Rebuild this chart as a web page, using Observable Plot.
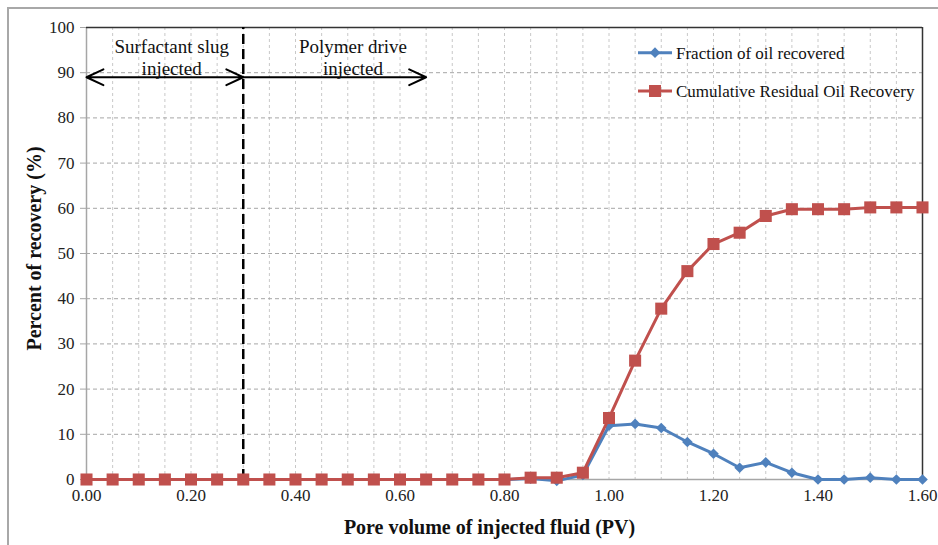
<!DOCTYPE html>
<html><head><meta charset="utf-8">
<script src="https://cdn.jsdelivr.net/npm/d3@7"></script>
<script src="https://cdn.jsdelivr.net/npm/@observablehq/plot@0.6"></script>
<style>
body{margin:0;background:#fff;}
#wrap{position:relative;width:938px;height:545px;overflow:hidden;font-family:"Liberation Serif","Times New Roman",serif;}
#wrap > svg{position:absolute;left:0;top:0;}
#frame{position:absolute;left:7px;top:7px;width:1000px;height:1000px;border-left:2px solid #a8a8a8;border-top:2px solid #a8a8a8;pointer-events:none;}
</style></head><body><div id="wrap"></div>
<script>
// ---- data ----
const pv = [0.00,0.05,0.10,0.15,0.20,0.25,0.30,0.35,0.40,0.45,0.50,0.55,0.60,0.65,0.70,0.75,0.80,0.85,0.90,0.95,1.00,1.05,1.10,1.15,1.20,1.25,1.30,1.35,1.40,1.45,1.50,1.55,1.60];
const fraction = [0,0,0,0,0,0,0,0,0,0,0,0,0,0,0,0,0,0.2,-0.3,1.0,11.9,12.3,11.4,8.3,5.7,2.6,3.8,1.5,0,0,0.4,0,0];
const cumulative = [0,0,0,0,0,0,0,0,0,0,0,0,0,0,0,0,0,0.4,0.4,1.5,13.6,26.3,37.8,46.1,52.1,54.6,58.3,59.8,59.8,59.8,60.2,60.2,60.2];
const seriesNames = ["Fraction of oil recovered", "Cumulative Residual Oil Recovery"];
const seriesColors = ["#4F81BD", "#C0504D"];
const xTicks = [0,0.2,0.4,0.6,0.8,1.0,1.2,1.4,1.6];
const xMinorGrid = [0.05,0.10,0.15,0.20,0.25,0.30,0.35,0.40,0.45,0.50,0.55,0.60,0.65,0.70,0.75,0.80,0.85,0.90,0.95,1.00,1.05,1.10,1.15,1.20,1.25,1.30,1.35,1.40,1.45,1.50,1.55];
const yTicks = [0,10,20,30,40,50,60,70,80,90,100];
const yGrid = [10,20,30,40,50,60,70,80,90];
const phaseBounds = [0.00, 0.30, 0.65];
const arrowLevel = 89;
const phaseLabels = ["Surfactant slug\ninjected", "Polymer drive\ninjected"];
const phaseLabelX = [0.163, 0.51];
const phaseLabelY = 93.4;
const xLabel = "Pore volume of injected fluid (PV)";
const yLabel = "Percent of recovery (%)";

// ---- build ----
const FONT = '"Liberation Serif", "Times New Roman", serif';
const rows = pv.map((x, i) => ({x, f: fraction[i], c: cumulative[i]}));
const mid = (phaseBounds[0] + phaseBounds[1]) / 2;
const arrows = [
  {x1: mid, x2: phaseBounds[0]},
  {x1: mid, x2: phaseBounds[1]},
  {x1: phaseBounds[1], x2: phaseBounds[2]}
];
const labels = phaseLabels.map((t, i) => ({t, x: phaseLabelX[i], y: phaseLabelY}));

const chart = Plot.plot({
  width: 938, height: 545,
  marginLeft: 86, marginRight: 16, marginTop: 27, marginBottom: 66,
  style: {fontFamily: FONT, fontSize: "16px", background: "transparent", overflow: "visible"},
  x: {domain: [0, 1.6]},
  y: {domain: [0, 100]},
  marks: [
    Plot.gridX({ticks: xMinorGrid, stroke: "#c8c8c8", strokeOpacity: 1, strokeDasharray: "3,3"}),
    Plot.gridY({ticks: yGrid, stroke: "#a6a6a6", strokeOpacity: 1, strokeDasharray: "4,3"}),
    Plot.ruleX([0], {stroke: "#a6a6a6", strokeWidth: 1.5}),
    Plot.ruleY([0], {stroke: "#a6a6a6", strokeWidth: 1.5}),
    Plot.ruleY([100], {stroke: "#333", strokeWidth: 1.5}),
    Plot.ruleX([1.6], {stroke: "#333", strokeWidth: 1.5}),
    Plot.axisY({ticks: yTicks, tickSize: 6, tickPadding: 6, stroke: "#a6a6a6", fill: "#222", fontSize: 17, label: null}),
    Plot.axisX({ticks: xTicks, tickFormat: d3.format(".2f"), tickSize: 0, tickPadding: 9, fill: "#222", fontSize: 17, label: null}),
    Plot.ruleX([phaseBounds[1]], {y1: 0, y2: 100, stroke: "black", strokeWidth: 2.5, strokeDasharray: "10,5"}),
    Plot.arrow(arrows, {x1: "x1", x2: "x2", y1: arrowLevel, y2: arrowLevel, stroke: "black", strokeWidth: 2, headLength: 14, headAngle: 50}),
    Plot.text(labels, {x: "x", y: "y", text: "t", fontSize: 19, lineHeight: 1.16, fill: "#111"}),
    Plot.line(rows, {x: "x", y: "f", stroke: seriesColors[0], strokeWidth: 3}),
    Plot.dot(rows, {x: "x", y: "f", symbol: "diamond2", r: 4.8, fill: seriesColors[0], stroke: null}),
    Plot.line(rows, {x: "x", y: "c", stroke: seriesColors[1], strokeWidth: 3}),
    Plot.dot(rows, {x: "x", y: "c", symbol: "square", r: 6.8, fill: seriesColors[1], stroke: null}),
    Plot.text([xLabel], {frameAnchor: "bottom", textAnchor: "middle", lineAnchor: "middle", dx: -15, dy: 48, fontSize: 20, fontWeight: "bold", fill: "#111"}),
    Plot.text([yLabel], {frameAnchor: "left", textAnchor: "middle", lineAnchor: "middle", dx: -52, dy: -5, rotate: -90, fontSize: 20, fontWeight: "bold", fill: "#111"})
  ]
});
const wrap = document.getElementById("wrap");
wrap.appendChild(chart);

// legend overlay
const leg = d3.select(wrap).append("svg")
  .attr("width", 938).attr("height", 545)
  .style("position", "absolute").style("left", "0px").style("top", "0px");
const legRows = [52.7, 91];
seriesNames.forEach((name, i) => {
  const g = leg.append("g").attr("transform", `translate(638,${legRows[i]})`);
  g.append("line").attr("x1", 0).attr("x2", 34).attr("stroke", seriesColors[i]).attr("stroke-width", 3);
  if (i === 0) g.append("path").attr("d", d3.symbol(d3.symbolDiamond2, 4.8 * 4.8 * Math.PI)()).attr("transform", "translate(17,0)").attr("fill", seriesColors[i]);
  else g.append("path").attr("d", d3.symbol(d3.symbolSquare, 6.8 * 6.8 * Math.PI)()).attr("transform", "translate(17,0)").attr("fill", seriesColors[i]);
  g.append("text").attr("x", 38).attr("dy", "0.35em").attr("font-family", FONT).attr("font-size", 17).attr("fill", "#111").text(name);
});
const fr = document.createElement("div"); fr.id = "frame"; wrap.appendChild(fr);
</script></body></html>
